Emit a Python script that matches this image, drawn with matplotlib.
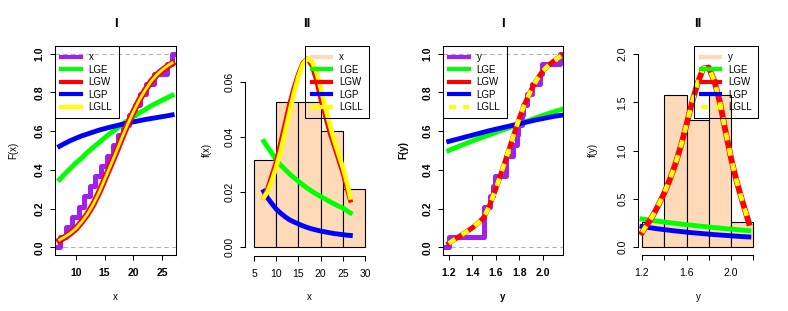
import numpy as np
import matplotlib.pyplot as plt
from matplotlib.lines import Line2D

plt.rcParams['font.family'] = ['Liberation Sans', 'DejaVu Sans']

# observed samples (n = 19)
x_obs = [7.2, 8.4, 9.4, 10.6, 11.5, 12.4, 13.4, 14.4, 15.5, 16.4,
         17.3, 18.2, 19.2, 20.3, 21.2, 22.2, 23.5, 25.8, 26.6]
y_obs = [1.20, 1.50, 1.50, 1.50, 1.55, 1.58, 1.59, 1.69, 1.69, 1.75,
         1.78, 1.79, 1.82, 1.83, 1.87, 1.91, 1.98, 1.99, 2.15]
x_bins = [5, 10, 15, 20, 25, 30]
y_bins = [1.2, 1.4, 1.6, 1.8, 2.0, 2.2]

# fitted curves
x_grid = [7.2, 8, 9, 10, 11, 12, 13, 14, 15, 16, 17, 18, 19, 20, 21, 22, 23, 24, 25, 26, 26.7]
cdf_x_lge = [0.35, 0.375, 0.405, 0.435, 0.46, 0.49, 0.515, 0.54, 0.565, 0.59, 0.61,
             0.635, 0.655, 0.675, 0.695, 0.71, 0.73, 0.745, 0.76, 0.775, 0.785]
cdf_x_lgp = [0.522, 0.535, 0.55, 0.563, 0.575, 0.585, 0.595, 0.605, 0.613, 0.621, 0.628,
             0.635, 0.642, 0.648, 0.654, 0.66, 0.665, 0.67, 0.675, 0.68, 0.684]
cdf_x_lgw = [0.035, 0.05, 0.07, 0.095, 0.13, 0.17, 0.22, 0.28, 0.35, 0.42, 0.49,
             0.565, 0.635, 0.70, 0.76, 0.81, 0.855, 0.89, 0.915, 0.937, 0.95]
cdf_x_lgll = [0.038, 0.052, 0.071, 0.096, 0.13, 0.17, 0.22, 0.28, 0.35, 0.42, 0.492,
              0.566, 0.636, 0.70, 0.76, 0.81, 0.855, 0.89, 0.917, 0.94, 0.953]

pdf_x_lge = [0.0384, 0.0365, 0.0342, 0.0315, 0.0298, 0.0282, 0.0266, 0.0252, 0.0239, 0.0226, 0.0214,
             0.0203, 0.0193, 0.0184, 0.0175, 0.0166, 0.0157, 0.0149, 0.0142, 0.0131, 0.0124]
pdf_x_lgp = [0.0202, 0.0180, 0.0158, 0.0138, 0.0123, 0.0110, 0.0099, 0.0091, 0.0084, 0.0077, 0.0071,
             0.0066, 0.0062, 0.0058, 0.0055, 0.0052, 0.0049, 0.0047, 0.0045, 0.0043, 0.0042]
pdf_x_lgw = [0.018, 0.021, 0.026, 0.031, 0.038, 0.045, 0.052, 0.058, 0.063, 0.067, 0.0685,
             0.066, 0.061, 0.054, 0.048, 0.042, 0.037, 0.032, 0.027, 0.021, 0.017]
pdf_x_lgll = [0.018, 0.020, 0.024, 0.029, 0.035, 0.042, 0.049, 0.056, 0.062, 0.0665, 0.0685,
              0.0675, 0.064, 0.058, 0.051, 0.045, 0.039, 0.034, 0.029, 0.023, 0.018]

y_grid = [1.2, 1.25, 1.3, 1.35, 1.4, 1.45, 1.5, 1.55, 1.6, 1.65,
          1.7, 1.75, 1.8, 1.85, 1.9, 1.95, 2.0, 2.05, 2.1, 2.16]
cdf_y_lge = [0.500, 0.513, 0.525, 0.537, 0.549, 0.560, 0.571, 0.582, 0.593, 0.604,
             0.615, 0.626, 0.637, 0.648, 0.659, 0.670, 0.681, 0.691, 0.701, 0.712]
cdf_y_lgp = [0.547, 0.555, 0.563, 0.571, 0.579, 0.587, 0.595, 0.603, 0.610, 0.617,
             0.624, 0.631, 0.638, 0.645, 0.652, 0.659, 0.665, 0.671, 0.677, 0.682]
cdf_y_lgw = [0.02, 0.04, 0.06, 0.08, 0.10, 0.125, 0.155, 0.22, 0.30, 0.39,
             0.48, 0.575, 0.665, 0.745, 0.81, 0.865, 0.91, 0.94, 0.965, 0.99]
cdf_y_lgll = cdf_y_lgw

pdf_y_lge = [0.290, 0.282, 0.274, 0.266, 0.259, 0.252, 0.245, 0.238, 0.231, 0.225,
             0.219, 0.213, 0.207, 0.201, 0.196, 0.190, 0.185, 0.180, 0.175, 0.170]
pdf_y_lgp = [0.212, 0.203, 0.195, 0.187, 0.180, 0.173, 0.166, 0.160, 0.154, 0.148,
             0.143, 0.138, 0.133, 0.128, 0.124, 0.120, 0.116, 0.112, 0.108, 0.104]
pdf_y_lgw = [0.15, 0.24, 0.33, 0.44, 0.56, 0.70, 0.86, 1.05, 1.27, 1.50,
             1.70, 1.85, 1.86, 1.72, 1.50, 1.20, 0.92, 0.68, 0.48, 0.25]
pdf_y_lgll = pdf_y_lgw

PURPLE = '#A020F0'
PEACH = '#FFDAB9'
GREEN = '#00FF00'
RED = '#FF0000'
BLUE = '#0000FF'
YELLOW = '#FFFF00'
GREY = '#B3B3B3'
DASH = (0, (1.7, 1.7))

W, H = 788, 311
fig = plt.figure(figsize=(W / 100, H / 100), dpi=100)


def px_axes(left, top, right, bottom):
    return fig.add_axes([left / W, 1 - bottom / H, (right - left) / W, (bottom - top) / H])


def style_axes(ax, xticks, yticks, bold, boxed, xlabels=None):
    ax.set_xticks(xticks)
    ax.set_yticks(yticks)
    if xlabels is not None:
        ax.set_xticklabels(xlabels)
    ax.tick_params(direction='out', length=3.6, width=0.75, labelsize=7.5,
                   top=False, right=False)
    ax.tick_params(axis='x', pad=6)
    ax.tick_params(axis='y', pad=4, labelrotation=90)
    for lab in ax.get_yticklabels():
        lab.set_va('center')
    if bold:
        for lab in ax.get_xticklabels() + ax.get_yticklabels():
            lab.set_fontweight('bold')
    for sp in ax.spines.values():
        sp.set_linewidth(0.75)
    if not boxed:
        ax.spines['top'].set_visible(False)
        ax.spines['right'].set_visible(False)
        ax.spines['left'].set_bounds(yticks[0], yticks[-1])
        ax.spines['bottom'].set_bounds(xticks[0], xticks[-1])


def draw_ecdf(ax, obs):
    xs = np.sort(obs)
    n = len(xs)
    lo, hi = ax.get_xlim()
    sx = np.concatenate([[lo], xs, [hi]])
    sy = np.concatenate([[0], np.arange(1, n + 1) / n, [1]])
    ax.step(sx, sy, where='post', color=PURPLE, lw=3.6, zorder=2)
    ax.axhline(0, color=GREY, lw=0.8, ls=(0, (4, 3)), zorder=1)
    ax.axhline(1, color=GREY, lw=0.8, ls=(0, (4, 3)), zorder=1)


def add_legend(ax, first, first_color, loc, dashed):
    handles = [Line2D([], [], color=first_color, lw=3),
               Line2D([], [], color=GREEN, lw=3),
               Line2D([], [], color=RED, lw=3),
               Line2D([], [], color=BLUE, lw=3),
               Line2D([], [], color=YELLOW, lw=3, ls=DASH if dashed else '-')]
    leg = ax.legend(handles, [first, 'LGE', 'LGW', 'LGP', 'LGLL'], loc=loc,
                    fontsize=7, frameon=True, fancybox=False, framealpha=1,
                    facecolor='none', edgecolor='black', borderaxespad=0,
                    handlelength=2.0, handletextpad=0.8, labelspacing=0.25,
                    borderpad=0.65)
    leg.get_frame().set_linewidth(0.75)


# ---- panel 1: CDF of x ----
ax1 = px_axes(55, 46, 176, 255)
ax1.set_xlim(6.41, 27.37)
ax1.set_ylim(-0.04, 1.04)
draw_ecdf(ax1, x_obs)
ax1.plot(x_grid, cdf_x_lge, color=GREEN, lw=3.5)
ax1.plot(x_grid, cdf_x_lgp, color=BLUE, lw=3.5)
ax1.plot(x_grid, cdf_x_lgw, color=RED, lw=4.6)
ax1.plot(x_grid, cdf_x_lgll, color=YELLOW, lw=2)
style_axes(ax1, [10, 15, 20, 25], [0, 0.2, 0.4, 0.6, 0.8, 1.0], True, True)
ax1.set_yticklabels(['0.0', '0.2', '0.4', '0.6', '0.8', '1.0'])
for lab in ax1.get_yticklabels():
    lab.set_va('center')
    lab.set_fontweight('bold')
add_legend(ax1, 'x', PURPLE, 'upper left', False)
ax1.set_title('I', fontweight='bold', fontsize=9.5, pad=14)

# ---- panel 2: density of x ----
ax2 = px_axes(245, 46, 369, 256)
ax2.set_xlim(2.97, 30.9)
ax2.set_ylim(-0.00327, 0.0731)
ax2.hist(x_obs, bins=x_bins, density=True, color=PEACH, edgecolor='black', linewidth=0.8)
ax2.plot(x_grid, pdf_x_lge, color=GREEN, lw=3.5)
ax2.plot(x_grid, pdf_x_lgp, color=BLUE, lw=3.5)
ax2.plot(x_grid, pdf_x_lgw, color=RED, lw=3.3)
ax2.plot(x_grid, pdf_x_lgll, color=YELLOW, lw=3.3)
style_axes(ax2, [5, 10, 15, 20, 25, 30], [0, 0.02, 0.04, 0.06], False, False)
ax2.set_yticklabels(['0.00', '0.02', '0.04', '0.06'])
for lab in ax2.get_yticklabels():
    lab.set_va('center')
add_legend(ax2, 'x', PEACH, 'upper right', False)
ax2.set_title('II', fontweight='bold', fontsize=9.5, pad=14)

# ---- panel 3: CDF of y ----
ax3 = px_axes(443, 46, 563, 255)
ax3.set_xlim(1.151, 2.173)
ax3.set_ylim(-0.04, 1.04)
draw_ecdf(ax3, y_obs)
ax3.plot(y_grid, cdf_y_lge, color=GREEN, lw=3.5)
ax3.plot(y_grid, cdf_y_lgp, color=BLUE, lw=3.5)
ax3.plot(y_grid, cdf_y_lgw, color=RED, lw=3.6)
ax3.plot(y_grid, cdf_y_lgll, color=YELLOW, lw=3.3, ls=DASH)
style_axes(ax3, [1.2, 1.4, 1.6, 1.8, 2.0], [0, 0.2, 0.4, 0.6, 0.8, 1.0], True, True)
ax3.set_yticklabels(['0.0', '0.2', '0.4', '0.6', '0.8', '1.0'])
for lab in ax3.get_yticklabels():
    lab.set_va('center')
    lab.set_fontweight('bold')
add_legend(ax3, 'y', PURPLE, 'upper left', True)
ax3.set_title('I', fontweight='bold', fontsize=9.5, pad=14)

# ---- panel 4: density of y ----
ax4 = px_axes(638, 46, 758, 255)
ax4.set_xlim(1.164, 2.242)
ax4.set_ylim(-0.083, 2.083)
ax4.hist(y_obs, bins=y_bins, density=True, color=PEACH, edgecolor='black', linewidth=0.8)
ax4.plot(y_grid, pdf_y_lge, color=GREEN, lw=3.5)
ax4.plot(y_grid, pdf_y_lgp, color=BLUE, lw=3.5)
ax4.plot(y_grid, pdf_y_lgw, color=RED, lw=4.2)
ax4.plot(y_grid, pdf_y_lgll, color=YELLOW, lw=3.3, ls=DASH)
style_axes(ax4, [1.2, 1.4, 1.6, 1.8, 2.0, 2.2], [0, 0.5, 1.0, 1.5, 2.0], False, False,
           xlabels=['1.2', '', '1.6', '', '2.0', ''])
ax4.set_yticklabels(['0.0', '0.5', '1.0', '1.5', '2.0'])
for lab in ax4.get_yticklabels():
    lab.set_va('center')
add_legend(ax4, 'y', PEACH, 'upper right', True)
ax4.set_title('II', fontweight='bold', fontsize=9.5, pad=14)

# axis titles
fig.text(13 / W, 1 - 150 / H, 'F(x)', rotation=90, ha='center', va='center', fontsize=7)
fig.text(115 / W, 1 - 297 / H, 'x', ha='center', va='center', fontsize=7)
fig.text(207 / W, 1 - 150 / H, 'f(x)', rotation=90, ha='center', va='center', fontsize=7)
fig.text(309 / W, 1 - 297 / H, 'x', ha='center', va='center', fontsize=7)
fig.text(403 / W, 1 - 150 / H, 'F(y)', rotation=90, ha='center', va='center', fontsize=7,
         fontweight='bold')
fig.text(503 / W, 1 - 297 / H, 'y', ha='center', va='center', fontsize=7, fontweight='bold')
fig.text(593 / W, 1 - 150 / H, 'f(y)', rotation=90, ha='center', va='center', fontsize=7)
fig.text(698 / W, 1 - 297 / H, 'y', ha='center', va='center', fontsize=7)

fig.savefig('out.png', dpi=100)
